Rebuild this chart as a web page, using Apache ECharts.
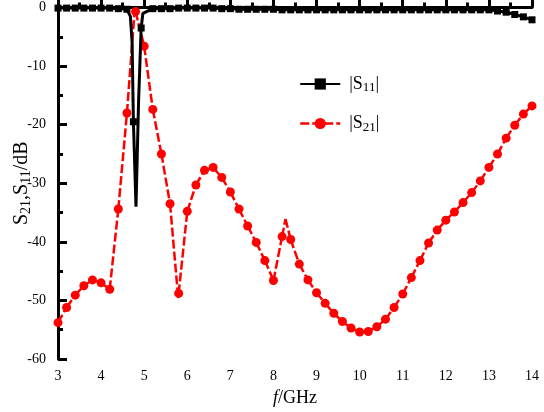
<!DOCTYPE html>
<html>
<head>
<meta charset="utf-8">
<script src="https://cdn.jsdelivr.net/npm/echarts@6.0.0/dist/echarts.min.js"></script>
<style>
  html, body { margin: 0; padding: 0; background: #fff; }
  #main { width: 544px; height: 412px; }
</style>
</head>
<body>
<div id="main"></div>
<script>
// |S21| markers (every 0.2 GHz)
const s21Freq = [3.0, 3.2, 3.4, 3.6, 3.8, 4.0, 4.2, 4.4, 4.6, 4.8, 5.0, 5.2, 5.4, 5.6, 5.8, 6.0, 6.2, 6.4, 6.6, 6.8,
  7.0, 7.2, 7.4, 7.6, 7.8, 8.0, 8.2, 8.4, 8.6, 8.8, 9.0, 9.2, 9.4, 9.6, 9.8, 10.0, 10.2, 10.4, 10.6, 10.8,
  11.0, 11.2, 11.4, 11.6, 11.8, 12.0, 12.2, 12.4, 12.6, 12.8, 13.0, 13.2, 13.4, 13.6, 13.8, 14.0];
const s21Val = [-53.8, -51.2, -49.1, -47.5, -46.5, -47.0, -48.1, -34.4, -18.0, -0.7, -6.6, -17.4, -25.0, -33.5, -48.8, -34.8, -30.3, -27.8, -27.3, -29.0,
  -31.5, -34.4, -37.3, -40.1, -43.2, -46.6, -39.1, -39.6, -43.8, -46.5, -48.7, -50.5, -52.2, -53.6, -54.7, -55.4, -55.3, -54.5, -53.2, -51.2,
  -48.9, -46.1, -43.2, -40.2, -38.0, -36.3, -34.9, -33.3, -31.6, -29.6, -27.3, -25.0, -22.3, -20.1, -18.2, -16.8];
// points of the |S21| curve without a marker
const s21ExtraFreq = [4.78, 5.79, 8.28];
const s21ExtraVal = [-0.4, -49.6, -36.1];

// |S11| markers
const s11Freq = [3.0, 3.2, 3.4, 3.6, 3.8, 4.0, 4.2, 4.4, 4.6, 4.75, 4.93, 5.2, 5.4, 5.6, 5.8, 6.0, 6.2, 6.4, 6.6, 6.8,
  7.0, 7.2, 7.4, 7.6, 7.8, 8.0, 8.2, 8.4, 8.6, 8.8, 9.0, 9.2, 9.4, 9.6, 9.8, 10.0, 10.2, 10.4, 10.6, 10.8,
  11.0, 11.2, 11.4, 11.6, 11.8, 12.0, 12.2, 12.4, 12.6, 12.8, 13.0, 13.2, 13.4, 13.6, 13.8, 14.0];
const s11Val = [-0.1, -0.1, -0.1, -0.1, -0.1, -0.1, -0.1, -0.2, -0.3, -19.5, -3.5, -0.2, -0.2, -0.2, -0.1, -0.1, -0.1, -0.1, -0.1, -0.2,
  -0.2, -0.3, -0.3, -0.3, -0.3, -0.3, -0.4, -0.4, -0.4, -0.4, -0.4, -0.4, -0.4, -0.4, -0.4, -0.4, -0.4, -0.4, -0.4, -0.4,
  -0.4, -0.4, -0.4, -0.4, -0.4, -0.4, -0.4, -0.4, -0.4, -0.4, -0.4, -0.6, -0.8, -1.2, -1.6, -2.1];
// points of the |S11| curve without a marker (resonance dip)
const s11ExtraFreq = [4.68, 4.72, 4.81, 4.87, 4.97];
const s11ExtraVal = [-1.5, -6.0, -34.0, -16.0, -1.0];

function buildSeries(freq, val, exFreq, exVal) {
  const pts = freq.map((f, i) => ({ value: [f, val[i]] }));
  exFreq.forEach((f, i) => pts.push({ value: [f, exVal[i]], symbol: 'none' }));
  pts.sort((a, b) => a.value[0] - b.value[0]);
  return pts;
}

const s11Data = buildSeries(s11Freq, s11Val, s11ExtraFreq, s11ExtraVal);
const s21Data = buildSeries(s21Freq, s21Val, s21ExtraFreq, s21ExtraVal);

// each S21 segment gets its own dash pattern (starts again at every point)
const s21Segments = [];
for (let i = 1; i < s21Data.length; i++) {
  s21Segments.push(s21Data[i - 1].value.concat(s21Data[i].value));
}

const serif = 'Liberation Serif';
const red = '#ff0000';
const chart = echarts.init(document.getElementById('main'));

chart.setOption({
  animation: false,
  backgroundColor: '#fff',
  textStyle: { fontFamily: serif },
  grid: { left: 58, right: 12, top: 7.5, bottom: 53, containLabel: false, outerBoundsMode: 'none' },
  legend: {
    orient: 'vertical',
    left: 294,
    top: 70,
    itemWidth: 40,
    itemHeight: 14,
    itemGap: 20,
    data: [
      { name: 'S11' },
      { name: 'S21', lineStyle: { color: red, width: 2.5, type: [9, 3], opacity: 1 } }
    ],
    formatter: name => '{n||S}{sub|' + name.slice(1) + '}{n||}',
    textStyle: {
      color: '#000',
      padding: [0, 0, 0, 4],
      rich: {
        n: { fontFamily: serif, fontSize: 18, color: '#000' },
        sub: { fontFamily: serif, fontSize: 13, color: '#000', padding: [8, 0, 0, 0] }
      }
    }
  },
  xAxis: {
    type: 'value',
    min: 3,
    max: 14,
    interval: 1,
    name: '{i|f}{n|/GHz}',
    nameLocation: 'middle',
    nameGap: 30,
    nameMoveOverlap: false,
    nameTextStyle: {
      rich: {
        i: { fontFamily: serif, fontSize: 18, fontStyle: 'italic', color: '#000' },
        n: { fontFamily: serif, fontSize: 18, color: '#000' }
      }
    },
    axisLine: { lineStyle: { color: '#000', width: 3 } },
    axisTick: { inside: true, length: 9, lineStyle: { color: '#000', width: 3 } },
    minorTick: { show: true, splitNumber: 2, length: 5, lineStyle: { color: '#000', width: 3 } },
    axisLabel: { color: '#000', fontFamily: serif, fontSize: 14, margin: 10 },
    splitLine: { show: false }
  },
  yAxis: {
    type: 'value',
    min: -60,
    max: 0,
    interval: 10,
    name: '{s|S}{sub|21}{s|,S}{sub|11}{s|/dB}',
    nameLocation: 'middle',
    nameRotate: 90,
    nameGap: 25,
    nameMoveOverlap: false,
    nameTextStyle: {
      rich: {
        s: { fontFamily: serif, fontSize: 20, color: '#000' },
        sub: { fontFamily: serif, fontSize: 14, color: '#000', padding: [9, 0, 0, 0] }
      }
    },
    axisLine: { lineStyle: { color: '#000', width: 3 } },
    axisTick: { inside: true, length: 9, lineStyle: { color: '#000', width: 3 } },
    minorTick: { show: true, splitNumber: 2, length: 5, lineStyle: { color: '#000', width: 3 } },
    axisLabel: { color: '#000', fontFamily: serif, fontSize: 14, margin: 12 },
    splitLine: { show: false }
  },
  series: [
    {
      name: 'S11',
      type: 'line',
      clip: false,
      symbol: 'rect',
      symbolSize: 7,
      showAllSymbol: true,
      itemStyle: { color: '#000' },
      lineStyle: { color: '#000', width: 3 },
      data: s11Data,
      z: 3
    },
    {
      name: 'S21',
      type: 'line',
      clip: false,
      symbol: 'circle',
      symbolSize: 9,
      showAllSymbol: true,
      itemStyle: { color: red },
      lineStyle: { color: red, width: 0, opacity: 0 },
      data: s21Data,
      z: 2
    },
    {
      name: 'S21 line',
      type: 'custom',
      clip: false,
      encode: { x: [0, 2], y: [1, 3] },
      renderItem: (params, api) => {
        const p0 = api.coord([api.value(0), api.value(1)]);
        const p1 = api.coord([api.value(2), api.value(3)]);
        return {
          type: 'line',
          shape: { x1: p0[0], y1: p0[1], x2: p1[0], y2: p1[1] },
          style: { stroke: red, lineWidth: 2.5, lineDash: [9, 3], fill: null }
        };
      },
      data: s21Segments,
      z: 1
    }
  ]
});
</script>
</body>
</html>
